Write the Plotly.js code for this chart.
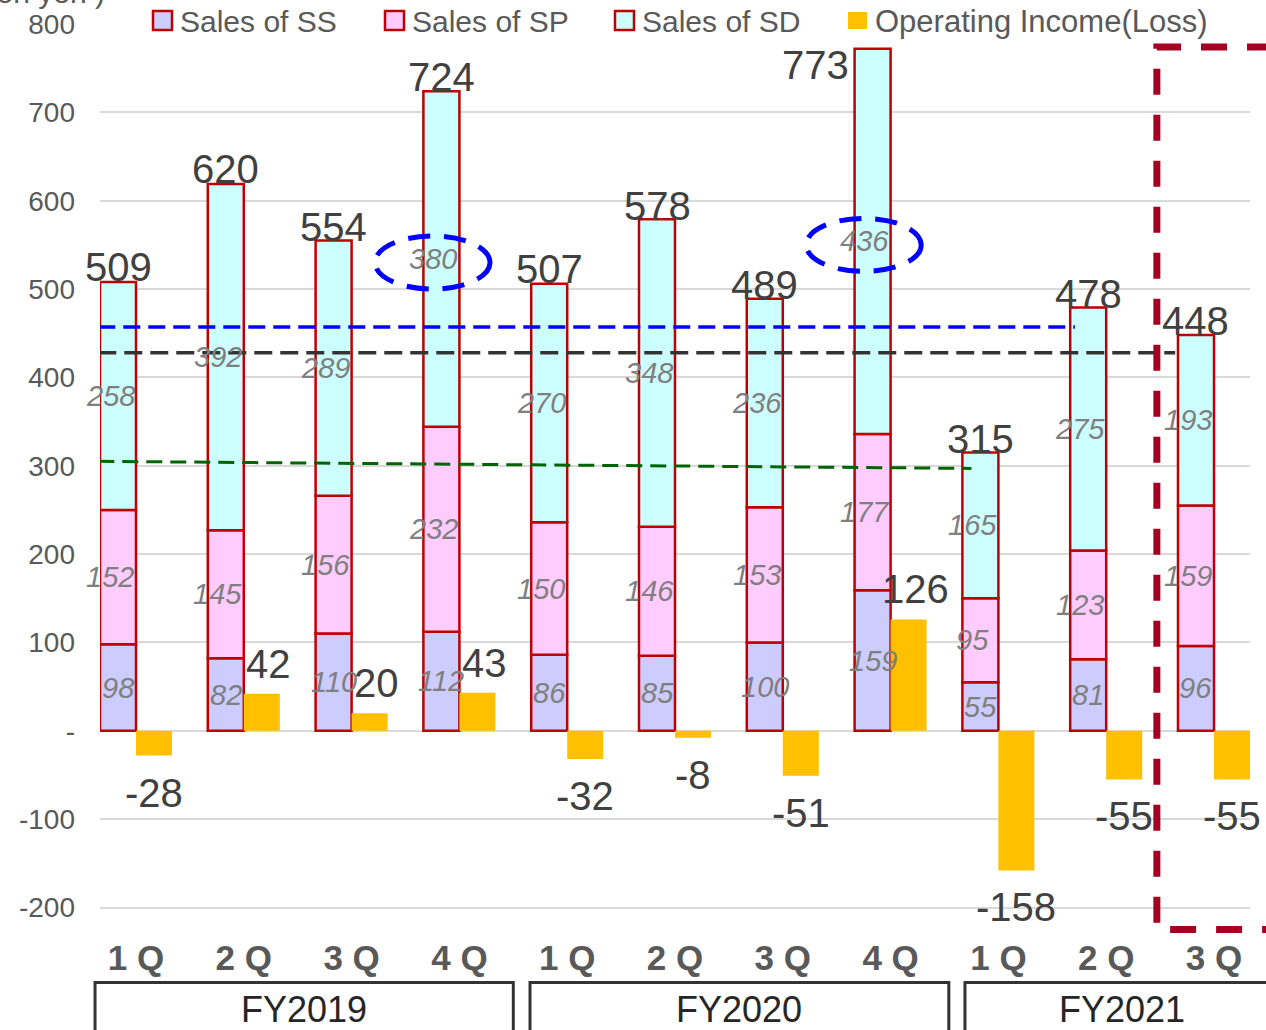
<!DOCTYPE html>
<html>
<head>
<meta charset="utf-8">
<script src="https://cdn.plot.ly/plotly-3.0.1.min.js"></script>
<style>
  html, body { margin: 0; padding: 0; background: #ffffff; }
  #chart { width: 1266px; height: 1030px; }
</style>
</head>
<body>
<div id="chart"></div>
<script>
// Quarterly sales by segment (million yen) and operating income (loss)
const quarters = ['1 Q', '2 Q', '3 Q', '4 Q', '1 Q', '2 Q', '3 Q', '4 Q', '1 Q', '2 Q', '3 Q'];
const fiscalYears = ['FY2019', 'FY2020', 'FY2021'];
const quartersPerYear = [4, 4, 3];
const salesSS = [98, 82, 110, 112, 86, 85, 100, 159, 55, 81, 96];
const salesSP = [152, 145, 156, 232, 150, 146, 153, 177, 95, 123, 159];
const salesSD = [258, 392, 289, 380, 270, 348, 236, 436, 165, 275, 193];
const salesTotal = [509, 620, 554, 724, 507, 578, 489, 773, 315, 478, 448];
const operatingIncome = [-28, 42, 20, 43, -32, -8, -51, 126, -158, -55, -55];
const seriesNames = ['Sales of SS', 'Sales of SP', 'Sales of SD', 'Operating Income(Loss)'];
const yTickValues = [-200, -100, 0, 100, 200, 300, 400, 500, 600, 700, 800];
const yTickLabels = ['-200', '-100', '-', '100', '200', '300', '400', '500', '600', '700', '800'];

// Reference levels and highlighted values
const blueLevel = 457;
const blackLevel = 428;
const greenLevelStart = 305;
const greenLevelEnd = 297;
const highlightedSD = [3, 7];

const X_RANGE = [-0.334, 10.334];
const Y_RANGE = [-230, 800];
const BAR_W = 0.334;

const colors = {
  ss: '#ccccff', sp: '#ffccff', sd: '#ccffff', oi: '#ffc000',
  edge: '#c00000', grid: '#d9d9d9', tick: '#595959', value: '#404040', seg: '#7f7f7f'
};
const FONT = 'Liberation Sans, Arial, sans-serif';

const idx = quarters.map((_, i) => i);
const baseSP = salesSS.slice();
const baseSD = salesSS.map((v, i) => v + salesSP[i]);

// paper-coordinate helpers
const xp = v => (v - X_RANGE[0]) / (X_RANGE[1] - X_RANGE[0]);
const yp = v => (v - Y_RANGE[0]) / (Y_RANGE[1] - Y_RANGE[0]);

function salesTrace(name, values, base, fill) {
  return {
    type: 'bar', name: name, x: idx, y: values, base: base,
    width: BAR_W, offset: -BAR_W,
    marker: { color: fill, line: { color: colors.edge, width: 2.5 } },
    hoverinfo: 'skip'
  };
}

const traces = [
  salesTrace(seriesNames[0], salesSS, idx.map(() => 0), colors.ss),
  salesTrace(seriesNames[1], salesSP, baseSP, colors.sp),
  salesTrace(seriesNames[2], salesSD, baseSD, colors.sd),
  {
    type: 'bar', name: seriesNames[3], x: idx, y: operatingIncome,
    width: BAR_W, offset: 0,
    marker: { color: colors.oi, line: { width: 0 } },
    hoverinfo: 'skip'
  }
];

const annotations = [];
const shapes = [];

// segment value labels (italic, grey)
function segLabels(values, base, shift) {
  values.forEach((v, i) => {
    annotations.push({
      x: i - BAR_W / 2, y: base[i] + v / 2, xref: 'x', yref: 'y',
      text: String(v), showarrow: false, xshift: shift,
      font: { family: FONT, size: 29, color: colors.seg, style: 'italic' }
    });
  });
}
segLabels(salesSS, idx.map(() => 0), 0);
segLabels(salesSP, baseSP, -8);
segLabels(salesSD, baseSD, -8);

// totals above the stacks
salesTotal.forEach((t, i) => {
  const a = {
    x: i - BAR_W / 2, y: t, xref: 'x', yref: 'y', text: String(t), showarrow: false,
    yanchor: 'bottom', yshift: -10,
    font: { family: FONT, size: 40, color: colors.value }
  };
  if (i === 7) {
    // tallest stack: label sits beside the bar top
    a.x = i - BAR_W; a.xanchor = 'right'; a.xshift = -4;
    a.yanchor = 'top'; a.yshift = 7;
  }
  annotations.push(a);
});

// operating income labels
operatingIncome.forEach((v, i) => {
  const pos = v >= 0;
  annotations.push({
    x: i + BAR_W / 2, y: v, xref: 'x', yref: 'y', text: String(v), showarrow: false,
    yanchor: pos ? 'bottom' : 'top', yshift: pos ? 6 : -13, xshift: pos ? 7 : 0,
    font: { family: FONT, size: 40, color: colors.value }
  });
});

// reference dashed lines
shapes.push({ type: 'line', xref: 'x', yref: 'y', x0: -0.35, x1: 8.71, y0: blueLevel, y1: blueLevel,
  line: { color: '#0000ff', width: 3.5, dash: '17px,8px' } });
shapes.push({ type: 'line', xref: 'x', yref: 'y', x0: -0.35, x1: 9.64, y0: blackLevel, y1: blackLevel,
  line: { color: '#333333', width: 3.5, dash: '18px,8px' } });
shapes.push({ type: 'line', xref: 'x', yref: 'y', x0: -0.35, x1: 7.75, y0: greenLevelStart, y1: greenLevelEnd,
  line: { color: '#006400', width: 3, dash: '16px,8px' } });

// dashed ellipses around highlighted SD values
highlightedSD.forEach(i => {
  const cy = baseSD[i] + salesSD[i] / 2 - 4;
  shapes.push({ type: 'circle', xref: 'x', yref: 'y',
    x0: i - 0.783, x1: i + 0.284, y0: cy - 30, y1: cy + 30,
    line: { color: '#0000ff', width: 5, dash: '22px,14px' } });
});

// dashed bracket marking the latest quarter
const bx = xp(9.47), byTop = yp(774), byBot = yp(-225);
shapes.push({ type: 'path', xref: 'paper', yref: 'paper',
  path: `M 1.06,${byTop} L ${bx},${byTop} L ${bx},${byBot} L 1.06,${byBot}`,
  line: { color: '#a50021', width: 7, dash: '26px,20px' } });

// fiscal-year boxes under the quarter labels
const boxLeftPad = [0.38, 0.345, 0.31];
const boxRightPad = [0.5, 0.46, -1.6];
let start = 0;
const boxTop = yp(-285), boxBottom = yp(-420);
fiscalYears.forEach((fy, k) => {
  const n = quartersPerYear[k];
  const x0 = start - boxLeftPad[k];
  const x1 = start + n - boxRightPad[k];
  shapes.push({ type: 'rect', xref: 'paper', yref: 'paper',
    x0: xp(x0), x1: xp(x1), y0: boxBottom, y1: boxTop,
    line: { color: '#333333', width: 3 }, fillcolor: 'rgba(0,0,0,0)' });
  const cx = k === fiscalYears.length - 1 ? 9.15 : (x0 + x1) / 2;
  annotations.push({ xref: 'paper', yref: 'paper', x: xp(cx), y: yp(-316),
    text: fy, showarrow: false, xanchor: 'center', yanchor: 'middle',
    font: { family: FONT, size: 36, color: '#262626' } });
  start += n;
});

// legend drawn as swatches with labels along the top
const legendX = [153, 385, 615, 848];
const legendFill = [colors.ss, colors.sp, colors.sd, colors.oi];
const plotLeft = 100, plotWidth = 1150, plotTop = 24, plotHeight = 910;
const pxX = px => (px - plotLeft) / plotWidth;
const pxY = py => 1 - (py - plotTop) / plotHeight;
seriesNames.forEach((name, k) => {
  const isOI = k === 3;
  shapes.push({ type: 'rect', xref: 'paper', yref: 'paper',
    x0: pxX(legendX[k]), x1: pxX(legendX[k] + 19), y0: pxY(isOI ? 29 : 30), y1: pxY(isOI ? 12 : 11),
    fillcolor: legendFill[k], line: { color: isOI ? legendFill[k] : colors.edge, width: isOI ? 0 : 2.5 } });
  annotations.push({ xref: 'paper', yref: 'paper', x: pxX(legendX[k] + 25), y: pxY(21),
    xanchor: 'left', yanchor: 'middle', text: name, showarrow: false,
    font: { family: FONT, size: isOI ? 31 : 30, color: colors.tick } });
});

// unit caption, mostly above the top edge
annotations.push({ xref: 'paper', yref: 'paper', x: pxX(107), y: 1, xanchor: 'right', yanchor: 'bottom',
  yshift: 13, text: '(Million yen )', showarrow: false,
  font: { family: FONT, size: 30, color: colors.tick } });

const layout = {
  width: 1266, height: 1030,
  margin: { l: plotLeft, r: 1266 - plotLeft - plotWidth, t: plotTop, b: 1030 - plotTop - plotHeight, pad: 0 },
  paper_bgcolor: '#ffffff', plot_bgcolor: '#ffffff',
  showlegend: false, barmode: 'overlay',
  xaxis: {
    range: X_RANGE, tickvals: idx, ticktext: quarters, showgrid: false, zeroline: false,
    showline: false, ticks: '', fixedrange: true,
    tickfont: { family: FONT, size: 35, color: colors.tick, weight: 'bold' }
  },
  yaxis: {
    range: Y_RANGE, tickvals: yTickValues, ticktext: yTickLabels,
    showgrid: true, gridcolor: colors.grid, gridwidth: 2,
    zeroline: true, zerolinecolor: colors.grid, zerolinewidth: 2,
    showline: false, ticks: '', ticklabelstandoff: 24, fixedrange: true,
    tickfont: { family: FONT, size: 28, color: colors.tick }
  },
  shapes: shapes,
  annotations: annotations
};

Plotly.newPlot('chart', traces, layout, { staticPlot: true, displayModeBar: false });
</script>
</body>
</html>
